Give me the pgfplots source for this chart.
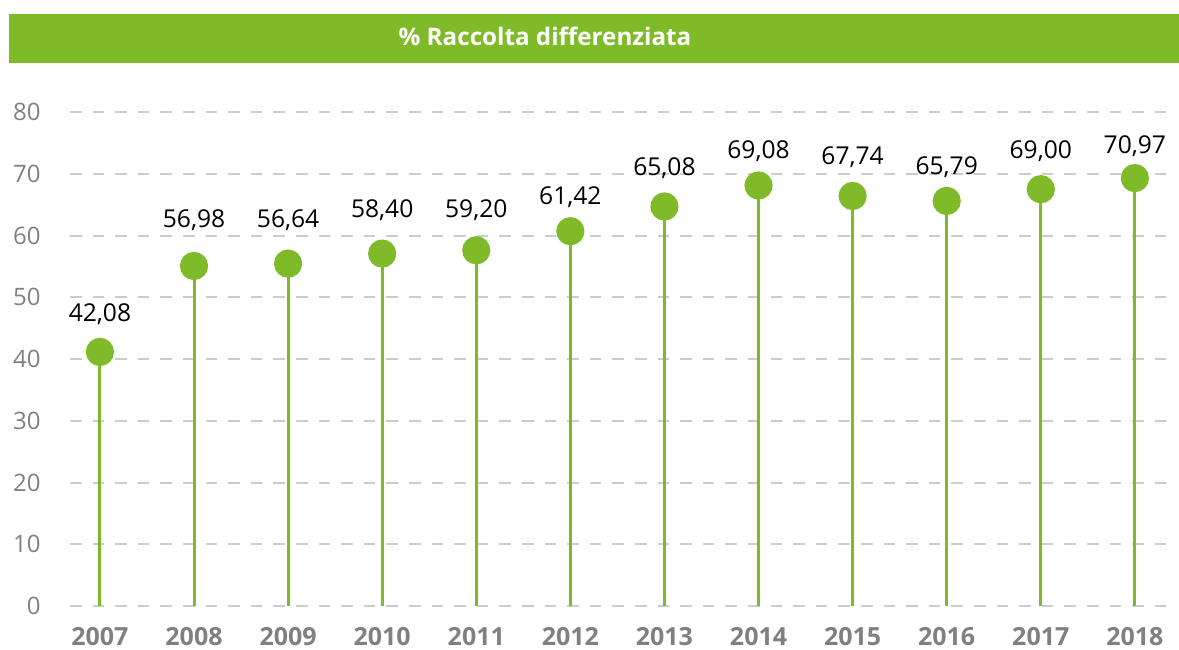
\documentclass[border=0pt]{standalone}
\usepackage{fontspec}
\setmainfont{Open Sans}
\usepackage{pgfplots}
\usepackage{pgfplotstable}
\pgfplotsset{compat=1.18}
\definecolor{rgreen}{HTML}{7FBA28}
\definecolor{tickgray}{HTML}{808080}
\definecolor{gridgray}{HTML}{CCCCCC}

\pgfplotstableread{
x y ly label
0 41.15 47.29 42,08
1 55.07 62.51 56,98
2 55.45 62.51 56,64
3 57.07 64.13 58,40
4 57.60 64.13 59,20
5 60.70 66.23 61,42
6 64.70 70.93 65,08
7 68.10 73.73 69,08
8 66.40 72.76 67,74
9 65.60 71.14 65,79
10 67.50 73.73 69,00
11 69.30 74.49 70,97
}\data

\begin{document}
\begin{tikzpicture}
\useasboundingbox (0,0) rectangle (589.5pt,324.5pt);
\fill[rgreen] (4.5pt,293pt) rectangle (589.5pt,317.5pt);
\node[text=white, font=\fontsize{12.1}{14}\selectfont\bfseries, anchor=center, inner sep=0pt] at (272.5pt,306.5pt) {\% Raccolta differenziata};
\begin{axis}[
  at={(35pt,21.5pt)}, anchor=south west,
  scale only axis, width=548.9pt, height=247pt,
  xmin=-0.318, xmax=11.35, ymin=0, ymax=80,
  xtick={0,...,11},
  xticklabels={2007,2008,2009,2010,2011,2012,2013,2014,2015,2016,2017,2018},
  ytick={0,10,...,80},
  ymajorgrids,
  grid style={dash pattern=on 5.8pt off 5.5pt, line width=1pt, color=gridgray},
  axis line style={draw=none},
  major tick length=0pt,
  tick style={draw=none},
  /pgf/number format/assume math mode=true,
  yticklabel style={anchor=east, inner sep=0pt, xshift=-14.5pt, text=tickgray, font=\fontsize{12}{14}\selectfont},
  xticklabel style={anchor=center, inner sep=0pt, yshift=-15.3pt, text=tickgray, font=\fontsize{12.5}{14}\selectfont\bfseries},
  clip=false,
]
\addplot[ycomb, color=rgreen, line width=1.5pt, mark=*, mark size=6.3pt, mark options={fill=rgreen, draw=none}] table[x=x, y=y] {\data};
\addplot[draw=none, mark=none, nodes near coords, point meta=explicit symbolic,
  nodes near coords style={anchor=center, inner sep=0pt, text=black, font=\fontsize{12.3}{14}\selectfont}]
  table[x=x, y=ly, meta=label] {\data};
\end{axis}
\end{tikzpicture}
\end{document}
